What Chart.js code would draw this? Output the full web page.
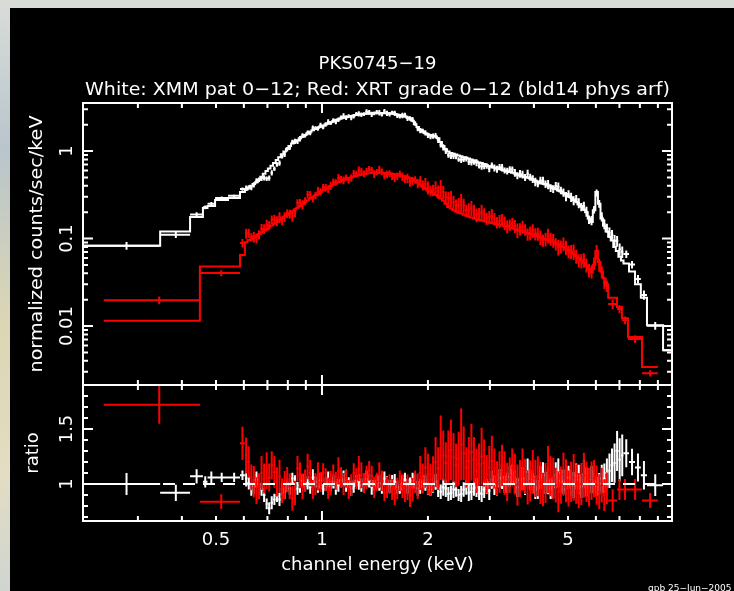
<!DOCTYPE html>
<html>

<head>
    <title>PKS0745-19 XMM / XRT spectra</title>
    <style>
        body {
            margin: 0;
            width: 734px;
            height: 591px;
            overflow: hidden;
            position: relative;
            background: linear-gradient(180deg, #d9ddd8 0%, #b9c5cc 25%, #dcd6b4 55%, #e3ddc2 80%, #cfd5d2 100%);
        }

        #plot {
            position: absolute;
            left: 10px;
            top: 8px;
            width: 724px;
            height: 583px;
            background: #000;
        }

        canvas {
            position: absolute;
            left: 0;
        }
    </style>
</head>

<body>
    <div id="plot"></div>
    <canvas id="specChart" width="734" height="386" style="top:0px"></canvas>
    <canvas id="ratioChart" width="734" height="206" style="top:385px"></canvas>

    <script src="https://cdn.jsdelivr.net/npm/chart.js"></script>
    <script type="text/javascript">
        // XMM pn (white): bin edges (keV), folded model (counts/s/keV), data/model ratio, fractional error
        const xmmEdges = [0.21, 0.347, 0.422, 0.459, 0.473, 0.497, 0.541, 0.585,
            0.604, 0.614, 0.625, 0.635, 0.646, 0.657, 0.668, 0.679, 0.691, 0.702,
            0.714, 0.726, 0.739, 0.751, 0.764, 0.777, 0.790, 0.803, 0.817, 0.831,
            0.845, 0.859, 0.873, 0.888, 0.903, 0.918, 0.934, 0.950, 0.966, 0.982,
            0.999, 1.016, 1.033, 1.050, 1.068, 1.086, 1.104, 1.123, 1.142, 1.161,
            1.181, 1.201, 1.221, 1.241, 1.262, 1.283, 1.305, 1.327, 1.350, 1.373,
            1.396, 1.419, 1.443, 1.467, 1.492, 1.517, 1.543, 1.569, 1.596, 1.623,
            1.650, 1.678, 1.706, 1.735, 1.764, 1.794, 1.824, 1.855, 1.886, 1.918,
            1.950, 1.983, 2.017, 2.051, 2.085, 2.120, 2.156, 2.192, 2.229, 2.267,
            2.305, 2.344, 2.384, 2.424, 2.465, 2.506, 2.548, 2.591, 2.635, 2.680,
            2.725, 2.771, 2.818, 2.865, 2.913, 2.962, 3.012, 3.063, 3.115, 3.168,
            3.221, 3.275, 3.330, 3.387, 3.444, 3.502, 3.561, 3.621, 3.682, 3.744,
            3.807, 3.871, 3.937, 4.003, 4.070, 4.139, 4.209, 4.280, 4.352, 4.425,
            4.500, 4.576, 4.653, 4.731, 4.811, 4.893, 4.975, 5.059, 5.144, 5.231,
            5.319, 5.409, 5.500, 5.593, 5.687, 5.783, 5.880, 5.979, 6.080, 6.183,
            6.287, 6.393, 6.501, 6.611, 6.722, 6.835, 6.950, 7.068, 7.187,
            7.45, 7.75, 8.05, 8.38, 9.31, 10.5];
        const xmmModel = [0.083, 0.12, 0.176, 0.223, 0.235, 0.275, 0.29, 0.34,
            0.36, 0.38, 0.40, 0.42, 0.44, 0.47, 0.51, 0.55, 0.59, 0.63,
            0.68, 0.73, 0.79, 0.85, 0.92, 0.99, 1.06, 1.14, 1.22, 1.28,
            1.33, 1.40, 1.46, 1.53, 1.60, 1.66, 1.73, 1.79, 1.85, 1.91,
            1.96, 2.01, 2.07, 2.13, 2.19, 2.25, 2.30, 2.35, 2.40, 2.44,
            2.48, 2.52, 2.55, 2.58, 2.61, 2.63, 2.65, 2.67, 2.69, 2.71,
            2.72, 2.72, 2.72, 2.72, 2.71, 2.70, 2.69, 2.67, 2.65, 2.62,
            2.58, 2.53, 2.48, 2.42, 2.36, 2.22, 2.03, 1.88, 1.75, 1.66,
            1.60, 1.56, 1.53, 1.50, 1.47, 1.40, 1.27, 1.14, 1.05, 0.99,
            0.95, 0.93, 0.91, 0.89, 0.87, 0.85, 0.84, 0.82, 0.80, 0.78,
            0.76, 0.74, 0.73, 0.71, 0.69, 0.67, 0.66, 0.65, 0.635, 0.625,
            0.61, 0.60, 0.585, 0.575, 0.565, 0.555, 0.54, 0.53, 0.515, 0.505,
            0.495, 0.485, 0.47, 0.46, 0.445, 0.435, 0.425, 0.415, 0.405, 0.395,
            0.38, 0.37, 0.355, 0.345, 0.33, 0.32, 0.305, 0.295, 0.275, 0.265,
            0.245, 0.235, 0.215, 0.20, 0.17, 0.155, 0.21, 0.34, 0.25, 0.17,
            0.14, 0.12, 0.105, 0.095, 0.08, 0.072, 0.062, 0.056,
            0.052, 0.042, 0.030, 0.021, 0.0102, 0.0053];
        const xmmRatio = [1.00, 0.92, 1.07, 1.02, 1.06, 1.06, 1.06, 1.08,
            1.05, 1.01, 0.95, 0.98, 1.04, 1.00, 0.95, 0.90, 0.82, 0.78,
            0.83, 0.86, 0.89, 0.86, 0.95, 0.93, 0.99, 0.96, 1.05, 1.01,
            0.96, 0.99, 1.03, 0.98, 1.01, 0.97, 1.06, 1.02, 0.98, 1.03,
            0.95, 1.00, 1.04, 0.98, 1.02, 0.97, 0.99, 1.03, 1.05, 0.99,
            1.01, 0.96, 0.98, 1.03, 1.02, 0.99, 1.00, 1.05, 1.03, 0.97,
            0.99, 1.02, 1.01, 0.96, 1.05, 1.00, 0.98, 1.03, 1.02, 0.97,
            0.96, 1.01, 1.04, 0.98, 1.00, 1.03, 1.02, 0.96, 0.98, 1.02,
            1.01, 0.97, 0.95, 0.99, 1.02, 0.96, 0.93, 0.97, 0.96, 0.91,
            0.92, 0.95, 0.95, 0.90, 0.91, 0.95, 0.97, 0.92, 0.93, 0.96,
            0.97, 0.92, 0.91, 0.95, 0.98, 0.94, 1.04, 0.99, 0.98, 1.05,
            1.06, 1.00, 1.01, 1.07, 1.09, 1.02, 0.97, 1.04, 1.05, 0.99,
            1.11, 1.04, 1.02, 0.97, 0.95, 1.06, 1.08, 1.01, 1.03, 0.96,
            0.97, 1.08, 1.10, 1.03, 1.02, 0.95, 1.06, 1.01, 0.99, 1.07,
            1.04, 0.98, 1.09, 1.02, 0.97, 1.04, 1.02, 0.98, 1.00, 1.05,
            1.05, 1.10, 1.12, 1.17, 1.19, 1.30, 1.22, 1.26,
            1.28, 1.20, 1.15, 1.08, 0.99, 1.00];
        const xmmErr = [0.10, 0.08, 0.06, 0.05, 0.05, 0.04, 0.04, 0.04,
            0.07, 0.06, 0.06, 0.07, 0.07, 0.06, 0.06, 0.07, 0.06, 0.07,
            0.07, 0.06, 0.06, 0.07, 0.06, 0.07, 0.06, 0.06, 0.05, 0.07,
            0.06, 0.07, 0.06, 0.05, 0.06, 0.06, 0.07, 0.05, 0.06, 0.07,
            0.05, 0.06, 0.07, 0.05, 0.06, 0.07, 0.06, 0.05, 0.07, 0.06,
            0.05, 0.07, 0.06, 0.05, 0.07, 0.06, 0.05, 0.07, 0.06, 0.07,
            0.05, 0.06, 0.07, 0.05, 0.06, 0.07, 0.06, 0.05, 0.07, 0.06,
            0.05, 0.07, 0.06, 0.07, 0.06, 0.07, 0.06, 0.07, 0.07, 0.06,
            0.07, 0.07, 0.06, 0.07, 0.07, 0.08, 0.07, 0.08, 0.08, 0.07,
            0.07, 0.08, 0.07, 0.06, 0.08, 0.07, 0.07, 0.08, 0.08, 0.07,
            0.09, 0.07, 0.08, 0.08, 0.07, 0.09, 0.08, 0.09, 0.09, 0.08,
            0.10, 0.08, 0.09, 0.09, 0.08, 0.10, 0.09, 0.10, 0.10, 0.09,
            0.11, 0.09, 0.10, 0.11, 0.09, 0.10, 0.11, 0.10, 0.12, 0.10,
            0.10, 0.11, 0.12, 0.10, 0.11, 0.12, 0.10, 0.12, 0.12, 0.11,
            0.13, 0.11, 0.12, 0.13, 0.11, 0.12, 0.10, 0.09, 0.10, 0.12,
            0.13, 0.12, 0.14, 0.13, 0.15, 0.14, 0.16, 0.15,
            0.10, 0.10, 0.11, 0.12, 0.10, 0.25];

        // Swift XRT (red)
        const xrtEdges = [0.240, 0.450, 0.585,
            0.604, 0.614, 0.625, 0.635, 0.646, 0.657, 0.668, 0.679, 0.691, 0.702,
            0.714, 0.726, 0.739, 0.751, 0.764, 0.777, 0.790, 0.803, 0.817, 0.831,
            0.845, 0.859, 0.873, 0.888, 0.903, 0.918, 0.934, 0.950, 0.966, 0.982,
            0.999, 1.016, 1.033, 1.050, 1.068, 1.086, 1.104, 1.123, 1.142, 1.161,
            1.181, 1.201, 1.221, 1.241, 1.262, 1.283, 1.305, 1.327, 1.350, 1.373,
            1.396, 1.419, 1.443, 1.467, 1.492, 1.517, 1.543, 1.569, 1.596, 1.623,
            1.650, 1.678, 1.706, 1.735, 1.764, 1.794, 1.824, 1.855, 1.886, 1.918,
            1.950, 1.983, 2.017, 2.051, 2.085, 2.120, 2.156, 2.192, 2.229, 2.267,
            2.305, 2.344, 2.384, 2.424, 2.465, 2.506, 2.548, 2.591, 2.635, 2.680,
            2.725, 2.771, 2.818, 2.865, 2.913, 2.962, 3.012, 3.063, 3.115, 3.168,
            3.221, 3.275, 3.330, 3.387, 3.444, 3.502, 3.561, 3.621, 3.682, 3.744,
            3.807, 3.871, 3.937, 4.003, 4.070, 4.139, 4.209, 4.280, 4.352, 4.425,
            4.500, 4.576, 4.653, 4.731, 4.811, 4.893, 4.975, 5.059, 5.144, 5.231,
            5.319, 5.409, 5.500, 5.593, 5.687, 5.783, 5.880, 5.979, 6.080, 6.183,
            6.287, 6.393, 6.501,
            6.89, 7.11, 7.40, 8.11, 9.0];
        const xrtModel = [0.0115, 0.048, 0.065,
            0.091, 0.096, 0.098, 0.103, 0.107, 0.113, 0.117, 0.123, 0.127, 0.134,
            0.141, 0.149, 0.156, 0.164, 0.171, 0.179, 0.186, 0.195, 0.205, 0.215,
            0.225, 0.236, 0.249, 0.262, 0.274, 0.287, 0.299, 0.312, 0.324, 0.337,
            0.353, 0.368, 0.383, 0.398, 0.413, 0.427, 0.439, 0.451, 0.464, 0.476,
            0.489, 0.500, 0.510, 0.520, 0.530, 0.539, 0.546, 0.553, 0.558, 0.562,
            0.564, 0.565, 0.565, 0.564, 0.562, 0.558, 0.553, 0.547, 0.543, 0.536,
            0.529, 0.521, 0.514, 0.505, 0.495, 0.480, 0.460, 0.437, 0.412, 0.388,
            0.368, 0.352, 0.341, 0.329, 0.316, 0.302, 0.287, 0.270, 0.250, 0.230,
            0.220, 0.211, 0.204, 0.197, 0.193, 0.187, 0.183, 0.177, 0.174, 0.170,
            0.167, 0.163, 0.161, 0.158, 0.156, 0.153, 0.151, 0.148, 0.146, 0.143,
            0.141, 0.138, 0.136, 0.133, 0.131, 0.128, 0.126, 0.123, 0.121, 0.118,
            0.116, 0.113, 0.111, 0.108, 0.106, 0.103, 0.101, 0.098, 0.096, 0.093,
            0.091, 0.088, 0.086, 0.082, 0.080, 0.077, 0.074, 0.070, 0.067, 0.063,
            0.060, 0.056, 0.053, 0.049, 0.045, 0.041, 0.050, 0.072, 0.054, 0.042,
            0.035, 0.030,
            0.021, 0.0165, 0.0123, 0.0075, 0.0034];
        const xrtRatio = [1.72, 0.84, 1.37,
            1.26, 1.20, 1.06, 1.02, 0.94, 0.98, 1.10, 1.05, 1.12, 1.06,
            1.17, 1.11, 1.02, 1.07, 0.94, 0.99, 1.04, 0.98, 0.87, 0.92,
            1.14, 1.08, 0.98, 1.03, 1.16, 1.10, 0.95, 1.00, 1.07, 1.02,
            1.10, 1.04, 0.96, 1.01, 1.08, 1.03, 1.12, 1.06, 1.00, 1.05,
            0.95, 0.99, 1.10, 1.05, 1.14, 1.08, 1.01, 1.06, 1.12, 1.07,
            0.97, 1.02, 1.08, 1.03, 0.92, 0.97, 1.00, 0.95, 0.91, 0.96,
            1.03, 0.98, 0.93, 0.97, 0.90, 0.95, 1.02, 0.98, 1.10, 1.05,
            1.15, 1.09, 1.04, 1.09, 1.20, 1.14, 1.33, 1.26, 1.19, 1.25,
            1.31, 1.24, 1.17, 1.23, 1.36, 1.28, 1.15, 1.21, 1.29, 1.22,
            1.12, 1.18, 1.25, 1.19, 1.09, 1.15, 1.21, 1.14, 1.05, 1.11,
            1.17, 1.10, 1.02, 1.08, 1.15, 1.09, 0.99, 1.05, 1.13, 1.07,
            0.97, 1.03, 1.11, 1.05, 1.07, 1.01, 0.95, 1.01, 1.13, 1.07,
            1.05, 0.99, 0.93, 0.99, 1.09, 1.03, 0.96, 1.02, 1.06, 1.00,
            0.94, 1.00, 1.08, 1.02, 0.97, 1.03, 1.05, 0.99, 0.93, 0.99,
            0.90, 0.96,
            0.85, 0.95, 0.95, 0.95, 0.85];
        const xrtErr = [0.10, 0.08, 0.11,
            0.13, 0.12, 0.11, 0.14, 0.13, 0.12, 0.14, 0.13, 0.15, 0.12,
            0.11, 0.13, 0.13, 0.14, 0.12, 0.13, 0.11, 0.12, 0.13, 0.12,
            0.10, 0.11, 0.12, 0.10, 0.10, 0.11, 0.09, 0.10, 0.12, 0.09,
            0.08, 0.10, 0.10, 0.11, 0.09, 0.08, 0.11, 0.09, 0.10, 0.08,
            0.09, 0.10, 0.08, 0.09, 0.10, 0.11, 0.09, 0.10, 0.08, 0.09,
            0.10, 0.08, 0.11, 0.09, 0.08, 0.10, 0.09, 0.10, 0.11, 0.10,
            0.09, 0.11, 0.10, 0.12, 0.12, 0.11, 0.10, 0.12, 0.14, 0.13,
            0.16, 0.17, 0.14, 0.15, 0.19, 0.17, 0.22, 0.18, 0.16, 0.19,
            0.21, 0.18, 0.17, 0.20, 0.24, 0.19, 0.16, 0.18, 0.20, 0.17,
            0.18, 0.16, 0.21, 0.18, 0.16, 0.17, 0.19, 0.16, 0.15, 0.17,
            0.16, 0.18, 0.17, 0.15, 0.15, 0.17, 0.19, 0.16, 0.17, 0.15,
            0.16, 0.18, 0.18, 0.16, 0.17, 0.19, 0.16, 0.18, 0.19, 0.17,
            0.18, 0.16, 0.20, 0.17, 0.18, 0.19, 0.17, 0.18, 0.20, 0.18,
            0.17, 0.19, 0.19, 0.18, 0.18, 0.17, 0.16, 0.18, 0.17, 0.16,
            0.16, 0.15,
            0.12, 0.10, 0.10, 0.10, 0.08];

        // axis ranges and tick marks
        const energyRange = [0.2095, 9.87];
        const countsRange = [0.00212, 3.54];
        const ratioRange = [0.664, 1.9];
        const energyMajor = [1];
        const energyMinor = [0.3, 0.4, 0.5, 0.6, 0.7, 0.8, 0.9, 2, 3, 4, 5, 6, 7, 8, 9];
        const energyLabels = [0.5, 1, 2, 5];
        const countsMajor = [0.01, 0.1, 1];
        const countsMinor = [0.003, 0.004, 0.005, 0.006, 0.007, 0.008, 0.009,
            0.02, 0.03, 0.04, 0.05, 0.06, 0.07, 0.08, 0.09,
            0.2, 0.3, 0.4, 0.5, 0.6, 0.7, 0.8, 0.9, 2, 3];
        const countsLabels = ['0.01', '0.1', '1'];
        const ratioMajor = [1, 1.5];
        const ratioMinor = [0.7, 0.8, 0.9, 1.1, 1.2, 1.3, 1.4, 1.6, 1.7, 1.8, 1.9];
        const ratioLabels = ['1', '1.5'];

        const WHITE = '#ffffff';
        const RED = '#ff0000';
        const FONT = '"DejaVu Sans", sans-serif';

        function crossPoints(edges, values, err) {
            return values.map((v, i) => ({
                x: (edges[i] + edges[i + 1]) / 2,
                y: v,
                xMin: edges[i],
                xMax: edges[i + 1],
                yMin: v * (1 - err[i]),
                yMax: v * (1 + err[i])
            }));
        }

        // one point per bin edge; Chart.js 'before' runs flat to the next edge, then jumps
        function stepPoints(edges, model) {
            return edges.map((e, i) => ({ x: e, y: model[Math.min(i, model.length - 1)] }));
        }

        const xmmCounts = xmmModel.map((m, i) => m * xmmRatio[i]);
        const xrtCounts = xrtModel.map((m, i) => m * xrtRatio[i]);

        function drawText(ctx, str, x, y, opts) {
            opts = opts || {};
            ctx.save();
            ctx.font = (opts.size || 18) + 'px ' + FONT;
            ctx.fillStyle = WHITE;
            ctx.textAlign = opts.align || 'center';
            ctx.textBaseline = 'alphabetic';
            ctx.translate(x, y);
            if (opts.rotate) ctx.rotate(-Math.PI / 2);
            if (opts.width) {
                const w = ctx.measureText(str).width;
                ctx.scale(opts.width / w, 1);
            }
            ctx.fillText(str, 0, 0);
            ctx.restore();
        }

        // error crosses drawn before the datasets so the model steps sit on top
        const crossPlugin = {
            id: 'crosses',
            beforeDatasetsDraw(chart) {
                const { ctx, chartArea: a, scales: { x, y } } = chart;
                ctx.save();
                ctx.beginPath();
                ctx.rect(a.left, a.top, a.width, a.height);
                ctx.clip();
                chart.data.datasets.forEach((ds, di) => {
                    if (!ds.crosses) return;
                    const meta = chart.getDatasetMeta(di);
                    ctx.strokeStyle = ds.borderColor;
                    ctx.lineWidth = 2;
                    ctx.beginPath();
                    ds.data.forEach((p, i) => {
                        const el = meta.data[i];
                        ctx.moveTo(x.getPixelForValue(p.xMin), el.y);
                        ctx.lineTo(x.getPixelForValue(p.xMax), el.y);
                        ctx.moveTo(el.x, y.getPixelForValue(p.yMin));
                        ctx.lineTo(el.x, y.getPixelForValue(p.yMax));
                    });
                    ctx.stroke();
                });
                ctx.restore();
            }
        };

        // box with inward ticks on all four sides, then the panel's texts
        function framePlugin(yMajor, yMinor, writeTexts) {
            return {
                id: 'frame',
                afterDraw(chart) {
                    const { ctx, chartArea: a, scales: { x, y } } = chart;
                    ctx.save();
                    ctx.strokeStyle = WHITE;
                    ctx.lineWidth = 2;
                    ctx.strokeRect(a.left, a.top, a.width, a.height);
                    ctx.beginPath();
                    const xTick = (v, len) => {
                        const px = x.getPixelForValue(v);
                        if (px <= a.left || px >= a.right) return;
                        ctx.moveTo(px, a.top); ctx.lineTo(px, a.top + len);
                        ctx.moveTo(px, a.bottom); ctx.lineTo(px, a.bottom - len);
                    };
                    const yTick = (v, len) => {
                        const py = y.getPixelForValue(v);
                        if (py <= a.top || py >= a.bottom) return;
                        ctx.moveTo(a.left, py); ctx.lineTo(a.left + len, py);
                        ctx.moveTo(a.right, py); ctx.lineTo(a.right - len, py);
                    };
                    energyMajor.forEach(v => xTick(v, 10));
                    energyMinor.forEach(v => xTick(v, 5));
                    yMajor.forEach(v => yTick(v, 10));
                    yMinor.forEach(v => yTick(v, 5));
                    ctx.stroke();
                    ctx.restore();
                    writeTexts(ctx, chart);
                }
            };
        }

        const commonOptions = (yType, yRange, padding) => ({
            animation: false,
            responsive: false,
            events: [],
            layout: { padding: padding },
            plugins: { legend: { display: false }, tooltip: { enabled: false } },
            scales: {
                x: { type: 'logarithmic', min: energyRange[0], max: energyRange[1], display: false },
                y: { type: yType, min: yRange[0], max: yRange[1], display: false }
            }
        });

        new Chart(document.getElementById('specChart'), {
            type: 'scatter',
            data: {
                datasets: [
                    { data: crossPoints(xmmEdges, xmmCounts, xmmErr), crosses: true, borderColor: WHITE, pointRadius: 0 },
                    { data: crossPoints(xrtEdges, xrtCounts, xrtErr), crosses: true, borderColor: RED, pointRadius: 0 },
                    { type: 'line', data: stepPoints(xmmEdges, xmmModel), stepped: 'before', borderColor: WHITE, borderWidth: 2, pointRadius: 0 },
                    { type: 'line', data: stepPoints(xrtEdges, xrtModel), stepped: 'before', borderColor: RED, borderWidth: 2, pointRadius: 0 }
                ]
            },
            options: commonOptions('logarithmic', countsRange, { left: 83, right: 62, top: 103, bottom: 1 }),
            plugins: [crossPlugin, framePlugin(countsMajor, countsMinor, (ctx, chart) => {
                const a = chart.chartArea;
                const cx = (a.left + a.right) / 2;
                drawText(ctx, 'PKS0745\u221219', cx, 69, { size: 18 });
                drawText(ctx, 'White: XMM pat 0\u221212; Red: XRT grade 0\u221212 (bld14 phys arf)', cx, 95, { size: 18, width: 585 });
                drawText(ctx, 'normalized counts/sec/keV', 42, (a.top + a.bottom) / 2, { size: 18, rotate: true, width: 257 });
                countsMajor.forEach((v, i) => {
                    drawText(ctx, countsLabels[i], 72, chart.scales.y.getPixelForValue(v), { size: 18, rotate: true });
                });
            })]
        });

        new Chart(document.getElementById('ratioChart'), {
            type: 'scatter',
            data: {
                datasets: [
                    { data: crossPoints(xmmEdges, xmmRatio, xmmErr), crosses: true, borderColor: WHITE, pointRadius: 0 },
                    { data: crossPoints(xrtEdges, xrtRatio, xrtErr), crosses: true, borderColor: RED, pointRadius: 0 },
                    {
                        type: 'line', data: [{ x: energyRange[0], y: 1 }, { x: energyRange[1], y: 1 }],
                        borderColor: WHITE, borderWidth: 2, borderDash: [12, 8], pointRadius: 0
                    }
                ]
            },
            options: commonOptions('linear', ratioRange, { left: 83, right: 62, top: 0, bottom: 70 }),
            plugins: [crossPlugin, framePlugin(ratioMajor, ratioMinor, (ctx, chart) => {
                const a = chart.chartArea;
                const { x, y } = chart.scales;
                energyLabels.forEach(v => drawText(ctx, String(v), x.getPixelForValue(v), 160, { size: 18 }));
                drawText(ctx, 'channel energy (keV)', (a.left + a.right) / 2, 185, { size: 18 });
                drawText(ctx, 'ratio', 38, (a.top + a.bottom) / 2, { size: 18, rotate: true });
                ratioMajor.forEach((v, i) => drawText(ctx, ratioLabels[i], 72, y.getPixelForValue(v), { size: 18, rotate: true }));
                drawText(ctx, 'gpb 25\u2212Jun\u22122005 01:36', 648, 206, { size: 9, align: 'left' });
            })]
        });
    </script>
</body>

</html>
